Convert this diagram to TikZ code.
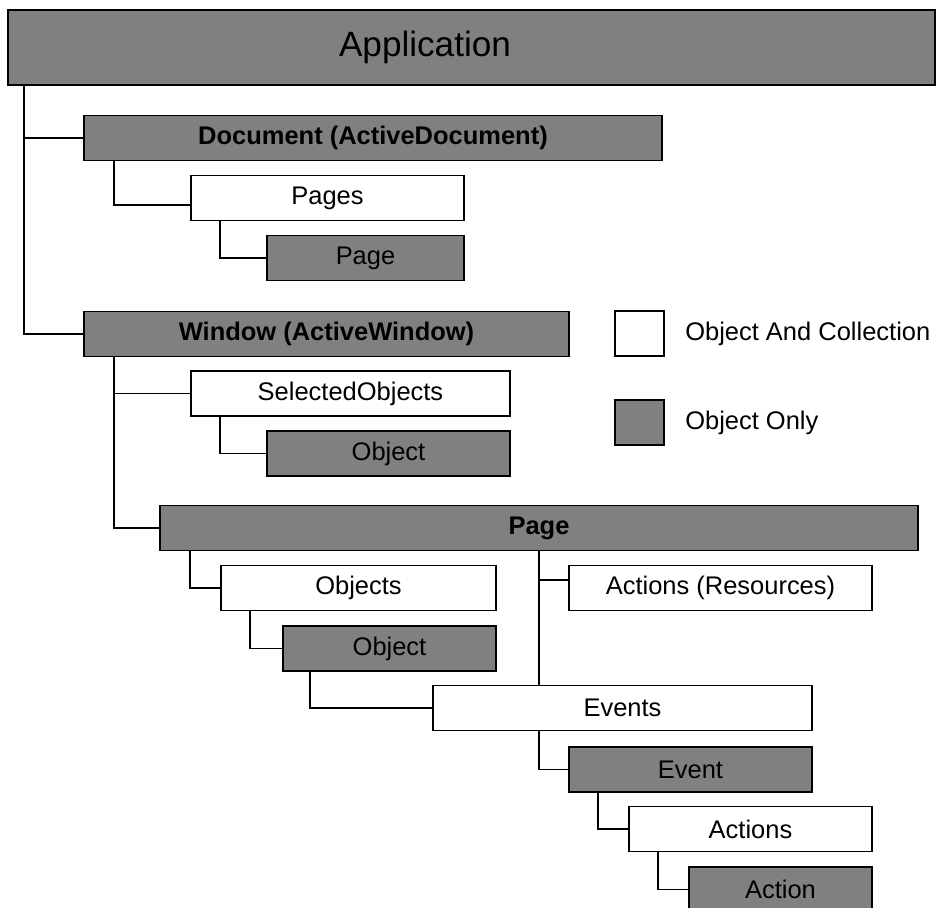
\documentclass[tikz,border=0pt]{standalone}
\usepackage{fontspec}
\setmainfont{Liberation Sans}
\usetikzlibrary{positioning}
\definecolor{boxgray}{HTML}{808080}
\tikzset{
  objbox/.style={draw, line width=1.1pt, fill=white, minimum height=0.9cm, inner sep=0pt, font=\fontsize{14.5pt}{17pt}\selectfont},
  onlybox/.style={objbox, fill=boxgray},
  headbox/.style={onlybox, font=\fontsize{14.5pt}{17pt}\selectfont\bfseries},
  legtext/.style={inner sep=0pt, font=\fontsize{14.5pt}{17pt}\selectfont},
  link/.style={line width=1.1pt}
}

\begin{document}
\begin{tikzpicture}[x=0.02cm,y=-0.02cm]
    \useasboundingbox (0,0) rectangle (944,908);
    \clip (0,0) rectangle (944,908);
    \node[onlybox, minimum width=18.54cm, minimum height=1.5cm] (app) at (471.5,47.5) {};
    \node[font=\fontsize{20pt}{24pt}\selectfont, inner sep=0pt] (apptext) at (425,47) {Application};
    \node[headbox, minimum width=11.56cm] (doc) at (373,138) {Document (ActiveDocument)};
    \node[objbox, minimum width=5.46cm] (pages) at (327.5,198) {Pages};
    \node[onlybox, minimum width=3.94cm] (page) at (365.5,258) {Page};
    \node[headbox, minimum width=9.7cm] (win) at (326.5,334) {Window (ActiveWindow)};
    \node[objbox, minimum width=6.38cm] (selobjs) at (350.5,393.5) {SelectedObjects};
    \node[onlybox, minimum width=4.86cm] (selobj) at (388.5,453.5) {Object};
    \node[headbox, minimum width=15.16cm] (winpage) at (539,528) {Page};
    \node[objbox, minimum width=5.5cm] (objs) at (358.5,588) {Objects};
    \node[objbox, minimum width=6.06cm] (actres) at (720.5,588) {Actions (Resources)};
    \node[onlybox, minimum width=4.26cm] (obj) at (389.5,648.5) {Object};
    \node[objbox, minimum width=7.58cm] (events) at (622.5,708) {Events};
    \node[onlybox, minimum width=4.86cm] (event) at (690.5,769.5) {Event};
    \node[objbox, minimum width=4.86cm] (actions) at (750.5,829) {Actions};
    \node[onlybox, minimum width=3.66cm] (action) at (780.5,889.5) {Action};

    \node[objbox, minimum width=0.98cm] (legwhite) at (639.5,333.5) {};
    \node[legtext, right=0.4cm of legwhite] (legwhitetext) {Object And Collection};
    \node[onlybox, minimum width=0.98cm] (leggray) at (639.5,422.5) {};
    \node[legtext, right=0.4cm of leggray] (leggraytext) {Object Only};

    \draw[link] ([xshift=0.33cm]app.south west) |- (doc.west);
    \draw[link] ([xshift=0.33cm]app.south west) |- (win.west);
    \draw[link] ([xshift=0.62cm]doc.south west) |- ([yshift=-0.14cm]pages.west);
    \draw[link] ([xshift=0.6cm]pages.south west) |- (page.west);
    \draw[link] ([xshift=0.62cm]win.south west) |- (selobjs.west);
    \draw[link] ([xshift=0.62cm]win.south west) |- (winpage.west);
    \draw[link] ([xshift=0.6cm]selobjs.south west) |- (selobj.west);
    \draw[link] ([xshift=0.62cm]winpage.south west) |- (objs.west);
    \draw[link] (winpage.south) -- (winpage.south |- events.north);
    \draw[link] ([yshift=0.16cm]actres.west) -| (winpage.south);
    \draw[link] ([xshift=0.6cm]objs.south west) |- (obj.west);
    \draw[link] ([xshift=0.56cm]obj.south west) |- (events.west);
    \draw[link] (events.south -| winpage.south) |- (event.west);
    \draw[link] ([xshift=0.6cm]event.south west) |- (actions.west);
    \draw[link] ([xshift=0.6cm]actions.south west) |- (action.west);
  \end{tikzpicture}
\end{document}
